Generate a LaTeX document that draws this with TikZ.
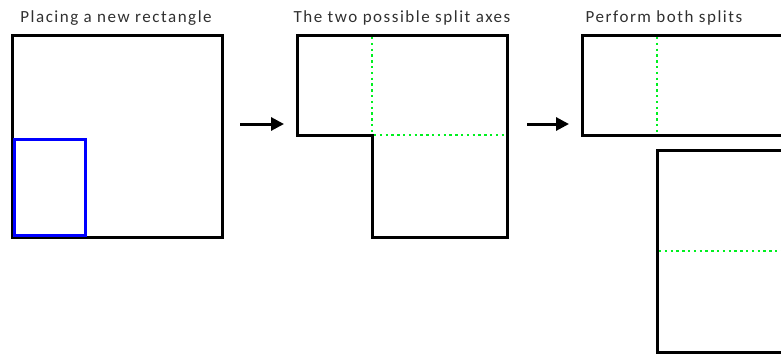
\documentclass[tikz,border=0pt]{standalone}
\usepackage{fontspec}
\setmainfont{Carlito}[LetterSpace=9]
\usetikzlibrary{arrows.meta}
\definecolor{captiongray}{HTML}{303030}
\definecolor{splitgreen}{HTML}{00F020}
\begin{document}
\begin{tikzpicture}[x=1pt,y=-1pt,
  outline/.style={draw=black,line width=3pt,line join=miter},
  placed/.style={draw=blue,line width=3pt},
  splitline/.style={draw=splitgreen,line width=2.4pt,dash pattern=on 2.4pt off 3.4pt},
  caption/.style={anchor=base,text=captiongray,font=\fontsize{17}{20}\selectfont,inner sep=0pt},
  flow/.style={draw=black,line width=3pt,-{Triangle[length=13pt,width=13pt]}}]
\useasboundingbox (0,0) rectangle (781,354);
\clip (0,0) rectangle (781,354);

% captions
\node[caption] (c1) at (116,22) {Placing a new rectangle};
\node[caption] (c2) at (402,22) {The two possible split axes};
\node[caption] (c3) at (664,22) {Perform both splits};

% panel 1: free space with the new rectangle in its lower left corner
\draw[outline] (12,35) rectangle (222,237);
\draw[placed] (14,139) rectangle (85,235.5);

% panel 2: remaining L-shaped free space and its two split axes
\draw[outline] (297,35) -- (507,35) -- (507,237) -- (372,237) -- (372,135) -- (297,135) -- cycle;
\draw[splitline] (372,37) -- (372,134);
\draw[splitline] (374,135) -- (505,135);

% panel 3: the two rectangles produced by splitting
\draw[outline] (582,35) rectangle (800,135);
\draw[splitline] (657,37) -- (657,134);
\draw[outline] (657,150) rectangle (800,352);
\draw[splitline] (659,251) -- (800,251);

% arrows between the panels
\coordinate (a1s) at (240,124);
\coordinate (a1e) at (284,124);
\coordinate (a2s) at (527,124);
\coordinate (a2e) at (569,124);
\draw[flow] (a1s) -- (a1e);
\draw[flow] (a2s) -- (a2e);
\end{tikzpicture}
\end{document}
